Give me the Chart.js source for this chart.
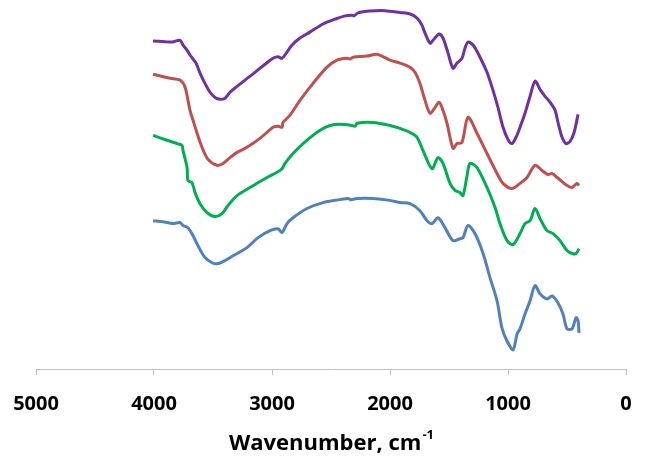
<!DOCTYPE html>
<html>
<head>
<meta charset="utf-8">
<script src="https://cdn.jsdelivr.net/npm/chart.js@4/dist/chart.umd.min.js"></script>
<style>
  body { margin: 0; background: #fff; }
  canvas { display: block; }
</style>
</head>
<body>
<canvas id="ftir" width="645" height="461"></canvas>
<script>
// spectra, stacked with an offset (transmittance, arbitrary units)
const purpleWn = [4008, 3907, 3847, 3780, 3754, 3720, 3695, 3669, 3644, 3610, 3568, 3525, 3483, 3441, 3398, 3356, 3296, 3229, 3144, 3059, 2991, 2949, 2915, 2873, 2830, 2763, 2678, 2568, 2466, 2381, 2322, 2305, 2271, 2169, 2042, 1915, 1830, 1771, 1729, 1703, 1661, 1635, 1584, 1551, 1508, 1466, 1432, 1390, 1364, 1339, 1296, 1237, 1178, 1127, 1085, 1042, 1000, 966, 932, 898, 856, 813, 771, 729, 686, 644, 601, 576, 542, 508, 474, 440, 406];
const purpleT = [88.9, 88.7, 88.6, 89.1, 87.8, 86.4, 85.1, 84.0, 82.9, 80.2, 77.4, 75.0, 73.6, 73.1, 73.4, 75.0, 76.6, 78.3, 80.4, 82.6, 84.2, 84.6, 84.2, 85.9, 87.8, 89.7, 91.3, 93.5, 94.8, 95.7, 95.9, 95.7, 96.5, 97.0, 97.1, 96.6, 96.2, 95.1, 93.2, 91.0, 88.3, 89.1, 90.8, 89.7, 85.6, 81.5, 82.9, 84.2, 87.0, 88.6, 87.8, 84.5, 80.4, 75.5, 70.9, 65.5, 62.2, 61.1, 62.8, 65.5, 69.3, 73.9, 78.0, 75.8, 73.9, 72.3, 70.1, 66.8, 62.8, 61.1, 61.7, 64.1, 69.0];

const redWn = [4008, 3864, 3780, 3737, 3712, 3695, 3669, 3635, 3593, 3542, 3466, 3415, 3356, 3296, 3212, 3102, 2991, 2949, 2915, 2907, 2847, 2763, 2652, 2534, 2449, 2364, 2339, 2313, 2195, 2110, 2000, 1915, 1830, 1788, 1746, 1703, 1661, 1618, 1584, 1551, 1517, 1466, 1432, 1390, 1339, 1263, 1178, 1093, 1042, 966, 898, 839, 771, 712, 661, 627, 584, 500, 457, 415, 398];
const redT = [79.9, 78.8, 78.3, 76.4, 72.8, 70.1, 67.4, 63.9, 60.1, 56.8, 55.2, 55.7, 57.3, 58.7, 60.1, 62.5, 65.5, 65.8, 65.5, 66.8, 68.8, 72.8, 77.4, 81.8, 83.7, 84.2, 84.0, 84.5, 84.8, 85.3, 83.7, 82.9, 81.8, 80.4, 77.4, 72.8, 69.3, 70.9, 72.3, 70.1, 66.6, 59.8, 61.1, 61.4, 68.2, 63.9, 58.4, 53.0, 50.3, 48.9, 50.3, 51.9, 55.2, 53.8, 52.7, 53.0, 51.9, 49.7, 49.2, 50.3, 49.7];

const greenWn = [4008, 3890, 3805, 3763, 3754, 3720, 3712, 3678, 3652, 3610, 3551, 3483, 3424, 3373, 3296, 3186, 3042, 2958, 2915, 2890, 2822, 2703, 2593, 2508, 2424, 2322, 2296, 2279, 2144, 2000, 1915, 1830, 1771, 1720, 1644, 1593, 1551, 1491, 1449, 1407, 1381, 1347, 1322, 1263, 1178, 1110, 1068, 1008, 957, 898, 856, 813, 771, 729, 669, 618, 559, 500, 457, 423, 398];
const greenT = [63.3, 62.0, 61.1, 60.6, 59.2, 54.6, 51.1, 50.5, 47.8, 44.8, 42.4, 41.3, 42.1, 44.3, 47.0, 49.2, 51.9, 53.3, 54.3, 55.7, 58.4, 62.0, 64.7, 66.0, 66.3, 66.0, 65.8, 66.6, 66.8, 66.0, 65.2, 64.1, 62.8, 59.2, 54.3, 57.3, 55.7, 50.3, 48.4, 47.8, 47.0, 52.4, 55.7, 54.6, 49.2, 43.8, 39.4, 34.8, 33.7, 36.7, 39.4, 40.2, 43.5, 40.8, 37.5, 36.7, 34.8, 32.1, 31.3, 31.3, 32.6];

const blueWn = [4008, 3924, 3839, 3780, 3754, 3712, 3669, 3627, 3568, 3508, 3466, 3415, 3330, 3212, 3118, 3017, 2949, 2915, 2873, 2822, 2703, 2568, 2424, 2356, 2330, 2279, 2144, 2000, 1915, 1830, 1746, 1686, 1644, 1593, 1534, 1466, 1407, 1381, 1339, 1280, 1211, 1152, 1093, 1051, 1008, 957, 923, 898, 856, 813, 771, 729, 669, 627, 576, 534, 500, 457, 423, 406, 398];
const blueT = [40.2, 39.9, 39.4, 39.7, 38.9, 38.3, 36.1, 33.4, 30.2, 28.8, 28.5, 29.1, 30.7, 32.9, 35.6, 37.5, 38.0, 37.0, 39.4, 41.0, 43.5, 45.1, 45.9, 46.2, 45.9, 46.2, 46.2, 45.7, 45.1, 44.8, 42.9, 40.2, 39.4, 41.0, 38.3, 34.8, 35.3, 35.6, 38.9, 36.7, 31.3, 24.7, 18.5, 11.1, 7.6, 5.2, 9.5, 10.9, 14.9, 18.5, 22.6, 20.4, 19.0, 19.8, 17.9, 14.9, 10.9, 10.9, 13.9, 13.0, 9.8];

const xTicks = [5000, 4000, 3000, 2000, 1000, 0];
const xTitle = 'Wavenumber, cm';
const xTitleSup = '-1';

function pairs(wn, t) {
    return wn.map((w, i) => ({ x: w, y: t[i] }));
}

function series(wn, t, color) {
    return {
        data: pairs(wn, t),
        borderColor: color,
        borderWidth: 3,
        pointRadius: 0,
        pointHoverRadius: 0,
        tension: 0.3,
        fill: false
    };
}

// axis title with a superscript, drawn under the tick labels
const axisTitle = {
    id: 'axisTitle',
    afterDraw(chart) {
        const { ctx, chartArea } = chart;
        const cx = (chartArea.left + chartArea.right) / 2;
        ctx.save();
        ctx.fillStyle = '#000';
        ctx.textBaseline = 'alphabetic';
        ctx.font = 'bold 22px "Open Sans"';
        const w1 = ctx.measureText(xTitle).width;
        ctx.font = 'bold 13px "Open Sans"';
        const w2 = ctx.measureText(xTitleSup).width;
        const x0 = cx - (w1 + w2) / 2;
        ctx.font = 'bold 22px "Open Sans"';
        ctx.fillText(xTitle, x0, 450);
        ctx.font = 'bold 13px "Open Sans"';
        ctx.fillText(xTitleSup, x0 + w1 + 1, 439);
        ctx.restore();
    }
};

new Chart(document.getElementById('ftir'), {
    type: 'line',
    data: {
        datasets: [
            series(blueWn, blueT, '#4f81bd'),
            series(greenWn, greenT, '#00b050'),
            series(redWn, redT, '#c0504d'),
            series(purpleWn, purpleT, '#7030a0')
        ]
    },
    options: {
        responsive: false,
        animation: false,
        layout: { autoPadding: false, padding: { left: 36, right: 19, top: 0, bottom: 28 } },
        plugins: { legend: { display: false }, tooltip: { enabled: false } },
        scales: {
            x: {
                type: 'linear',
                reverse: true,
                min: 0,
                max: 5000,
                afterBuildTicks(scale) {
                    scale.ticks = xTicks.map(v => ({ value: v }));
                },
                grid: { display: true, drawOnChartArea: false, drawTicks: true, tickLength: 6, color: '#bfbfbf' },
                border: { display: true, color: '#bfbfbf', width: 1 },
                ticks: {
                    padding: 13,
                    color: '#000',
                    maxRotation: 0,
                    font: { family: '"Open Sans"', size: 20, weight: 'bold', lineHeight: 1.6 },
                    callback: v => String(v)
                }
            },
            y: {
                display: false,
                min: 0,
                max: 100
            }
        }
    },
    plugins: [axisTitle]
});
</script>
</body>
</html>
